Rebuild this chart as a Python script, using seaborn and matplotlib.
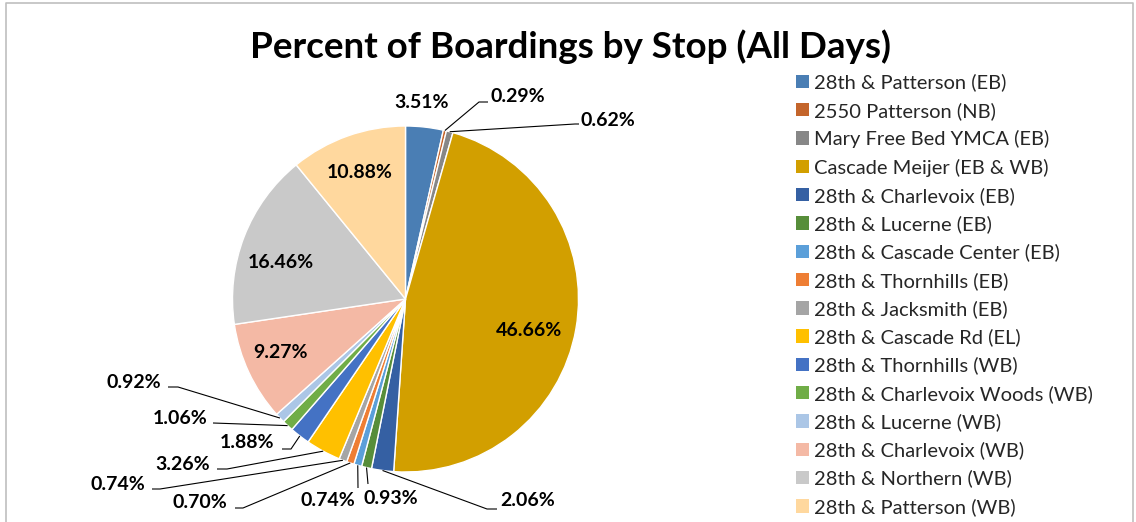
import matplotlib
matplotlib.use("Agg")
import matplotlib.pyplot as plt
from matplotlib.patches import Patch
from matplotlib.lines import Line2D
import seaborn as sns
import numpy as np

# ---------------- data ----------------
title = "Percent of Boardings by Stop (All Days)"
stops = [
    "28th & Patterson (EB)",
    "2550 Patterson (NB)",
    "Mary Free Bed YMCA (EB)",
    "Cascade Meijer (EB & WB)",
    "28th & Charlevoix (EB)",
    "28th & Lucerne (EB)",
    "28th & Cascade Center (EB)",
    "28th & Thornhills (EB)",
    "28th & Jacksmith (EB)",
    "28th & Cascade Rd (EL)",
    "28th & Thornhills (WB)",
    "28th & Charlevoix Woods (WB)",
    "28th & Lucerne (WB)",
    "28th & Charlevoix (WB)",
    "28th & Northern (WB)",
    "28th & Patterson (WB)",
]
percent = [3.51, 0.29, 0.62, 46.66, 2.06, 0.93, 0.74, 0.70, 0.74,
           3.26, 1.88, 1.06, 0.92, 9.27, 16.46, 10.88]
colors_hex = ["#4A7EB4", "#C4652B", "#878787", "#D29F00", "#3560A3", "#578E3A",
              "#5B9FD9", "#EE7E34", "#A5A5A5", "#FFC000", "#4472C4", "#70AD47",
              "#ABC6E6", "#F4B9A5", "#C9C9C9", "#FFD89E"]

# ---------------- layout (pixels) ----------------
W, H, DPI = 1136, 522, 100
CX, CY, R = 405.5, 299.0, 173.0
# label text centres
label_pos = [(422, 103), (518, 97), (608, 120), (529, 330), (528, 501),
             (391, 499), (328, 500), (200, 503), (118, 484), (183, 465),
             (247, 442), (180, 418), (134, 382), (281, 352), (281, 262),
             (360, 172)]
# leader lines: (end near text, elbow) ; None = no leader
leaders = [None, ((488, 102), (479, 102)), ((579, 124), (575, 124)), None,
           ((497, 509), (487, 509)), ((368, 484), (368, 484)),
           ((358, 488), (358, 488)), ((235, 508), (243, 508)),
           ((152, 489), (160, 489)), ((217, 469), (227, 469)),
           ((282, 449), (291, 449)), ((213, 423), (213, 423)),
           ((168, 387), (178, 387)), None, None, None]


def to_data(x, y):
    return (x - CX) / R, (CY - y) / R


sns.set_theme(style="white")
plt.rcParams['font.family'] = ['Lato', 'DejaVu Sans']

fig = plt.figure(figsize=(W / DPI, H / DPI), dpi=DPI)
fig.patch.set_facecolor("white")
ax = fig.add_axes([0, 0, 1, 1])

palette = sns.color_palette(colors_hex)
wedges, _ = ax.pie(percent, colors=palette, startangle=90, counterclock=False,
                   radius=1.0, wedgeprops=dict(edgecolor="white", linewidth=1.0))
ax.set_aspect("auto")
ax.set_xlim(-CX / R, (W - CX) / R)
ax.set_ylim(-(H - CY) / R, CY / R)
ax.axis("off")

for i, (w, v) in enumerate(zip(wedges, percent)):
    tx, ty = to_data(*label_pos[i])
    ax.text(tx, ty, f"{v:.2f}%", ha="center", va="center", fontsize=14,
            fontweight="bold", color="black")
    if leaders[i] is not None:
        (x1, y1), (x2, y2) = leaders[i]
        th = np.deg2rad((w.theta1 + w.theta2) / 2.0)
        axx, ayy = np.cos(th), np.sin(th)
        p1 = to_data(x1, y1)
        p2 = to_data(x2, y2)
        ax.plot([p1[0], p2[0], axx], [p1[1], p2[1], ayy], color="black",
                lw=0.8, solid_capstyle="butt")

fig.text(571 / W, 1 - 47 / H, title, ha="center", va="center",
         fontsize=26.5, fontweight="bold", color="black")

handles = [Patch(facecolor=c, edgecolor="none") for c in palette]
fig.legend(handles, stops, loc="upper left", bbox_to_anchor=(796 / W, 1 - 73.5 / H),
           frameon=False, fontsize=14.5, labelspacing=0.515, handlelength=0.65,
           handleheight=0.65, handletextpad=0.25, borderpad=0, borderaxespad=0)

fig.add_artist(Line2D([6 / W, 6 / W, 1133 / W, 1133 / W], [0, 1 - 3 / H, 1 - 3 / H, 0],
                      transform=fig.transFigure, color="#BFBFBF", lw=1.2))

fig.savefig("out.png", dpi=DPI)
